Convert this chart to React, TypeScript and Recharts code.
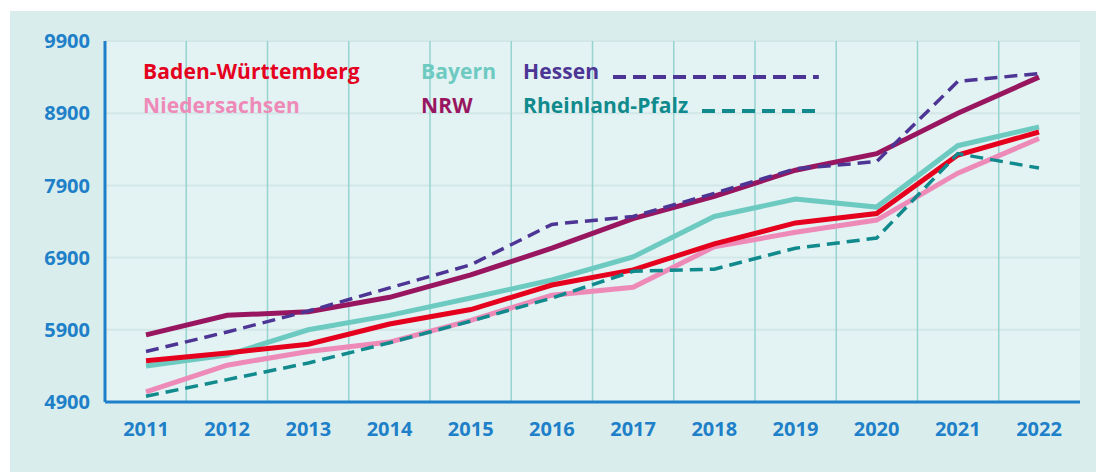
import React from 'react';
import { LineChart, Line, XAxis, YAxis, CartesianGrid, Legend } from 'recharts';

const years = ['2011', '2012', '2013', '2014', '2015', '2016', '2017', '2018', '2019', '2020', '2021', '2022'];

const badenWuerttemberg = [5470, 5580, 5700, 5980, 6180, 6520, 6730, 7090, 7380, 7510, 8320, 8640];
const niedersachsen = [5040, 5410, 5600, 5730, 6030, 6380, 6490, 7050, 7250, 7420, 8070, 8550];
const bayern = [5400, 5550, 5900, 6100, 6340, 6590, 6910, 7470, 7710, 7600, 8450, 8710];
const nrw = [5830, 6100, 6150, 6350, 6660, 7030, 7440, 7750, 8110, 8340, 8900, 9400];
const hessen = [5600, 5870, 6160, 6480, 6800, 7360, 7470, 7790, 8130, 8230, 9340, 9450];
const rheinlandPfalz = [4980, 5210, 5440, 5720, 6020, 6340, 6710, 6740, 7030, 7170, 8340, 8140];

const yTicks = [4900, 5900, 6900, 7900, 8900, 9900];

const data = years.map((year, i) => ({
  year,
  bw: badenWuerttemberg[i],
  ni: niedersachsen[i],
  by: bayern[i],
  nrw: nrw[i],
  he: hessen[i],
  rp: rheinlandPfalz[i],
}));

// drawing order: solid lines first, dashed on top
const series = [
  { key: 'ni', name: 'Niedersachsen', color: '#ee8ab8', dash: undefined as string | undefined },
  { key: 'by', name: 'Bayern', color: '#6dcac1', dash: undefined },
  { key: 'bw', name: 'Baden-Württemberg', color: '#e5001e', dash: undefined },
  { key: 'nrw', name: 'NRW', color: '#981660', dash: undefined },
  { key: 'he', name: 'Hessen', color: '#4c3594', dash: '13 7' },
  { key: 'rp', name: 'Rheinland-Pfalz', color: '#108a8c', dash: '13 7' },
];

const legendOrder = ['bw', 'by', 'he', 'ni', 'nrw', 'rp'];

const blue = '#1e80c8';

const renderLegend = (props: any) => {
  const items = [...(props.payload || [])].sort(
    (a: any, b: any) => legendOrder.indexOf(a.dataKey) - legendOrder.indexOf(b.dataKey)
  );
  return (
    <div style={{ display: 'grid', gridTemplateColumns: '278px 102px 296px', rowGap: 8 }}>
      {items.map((item: any) => {
        const s = series.find((x) => x.key === item.dataKey);
        return (
          <div
            key={item.dataKey}
            style={{ display: 'flex', alignItems: 'center', height: 26, color: item.color, fontWeight: 700, fontSize: 21, letterSpacing: 0.1, whiteSpace: 'nowrap' }}
          >
            <span>{item.value}</span>
            {s && s.dash && (
              <svg style={{ flex: 1, marginLeft: 14 }} height={22}>
                <line x1={0} x2="100%" y1={17} y2={17} stroke={item.color} strokeWidth={4} strokeDasharray={s.dash} />
              </svg>
            )}
          </div>
        );
      })}
    </div>
  );
};

const bandLines = ({ offset }: any) => {
  const band = offset.width / years.length;
  return years.slice(1).map((_, i) => offset.left + band * (i + 1));
};

export default function App() {
  return (
    <div style={{ position: 'absolute', left: 0, top: 0, width: 1096, height: 472, background: '#fff', fontFamily: '"Open Sans", sans-serif' }}>
      <div style={{ position: 'absolute', left: 10, top: 11, width: 1086, height: 461, background: '#d9eded' }} />
      <div style={{ position: 'absolute', left: 0, top: 0 }}>
        <LineChart width={1096} height={472} data={data} margin={{ top: 41, right: 16, bottom: 40, left: 0 }}>
          <CartesianGrid fill="#e3f2f3" vertical={false} stroke="#d3e7e8" strokeWidth={2} />
          <CartesianGrid horizontal={false} stroke="#96d4cf" strokeWidth={1.5} verticalCoordinatesGenerator={bandLines} />
          <XAxis
            dataKey="year"
            padding={{ left: 41, right: 41 }}
            height={30}
            tickSize={0}
            tickMargin={20}
            axisLine={{ stroke: blue, strokeWidth: 3 }}
            tick={{ fill: blue, fontSize: 20, fontWeight: 700 }}
            interval={0}
          />
          <XAxis xAxisId="top" dataKey="year" orientation="top" height={0} tick={false} tickLine={false} axisLine={{ stroke: blue, strokeWidth: 3 }} />
          <YAxis
            domain={[4900, 9900]}
            ticks={yTicks}
            width={105}
            tickSize={0}
            tickMargin={15}
            axisLine={{ stroke: blue, strokeWidth: 3 }}
            tick={{ fill: blue, fontSize: 20, fontWeight: 700 }}
          />
          <YAxis yAxisId="right" orientation="right" width={0} domain={[4900, 9900]} tick={false} tickLine={false} axisLine={{ stroke: blue, strokeWidth: 3 }} />
          <Legend
            layout="horizontal"
            verticalAlign="middle"
            align="center"
            content={renderLegend}
            wrapperStyle={{ left: 143, top: 58, width: 676 }}
          />
          {series.map((s) => (
            <Line
              key={s.key}
              dataKey={s.key}
              name={s.name}
              type="linear"
              stroke={s.color}
              strokeWidth={s.dash ? 3.5 : 5}
              strokeDasharray={s.dash}
              dot={false}
              activeDot={false}
              isAnimationActive={false}
            />
          ))}
        </LineChart>
      </div>
    </div>
  );
}
